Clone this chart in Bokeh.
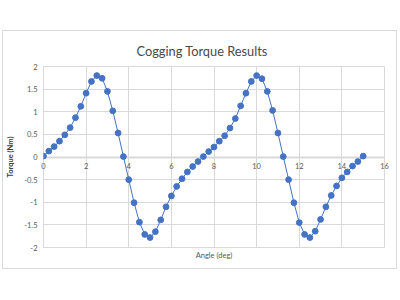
from bokeh.plotting import figure
from bokeh.models import ColumnDataSource, FixedTicker, LinearAxis, Range1d, Title, Grid
from bokeh.embed import file_html
from bokeh.resources import INLINE

angle = [0, 0.25, 0.5, 0.75, 1.0, 1.25, 1.5, 1.75, 2.0, 2.25, 2.5, 2.75, 3.0, 3.25, 3.5, 3.75,
         4.0, 4.25, 4.5, 4.75, 5.0, 5.25, 5.5, 5.75, 6.0, 6.25, 6.5, 6.75, 7.0, 7.25, 7.5, 7.75,
         8.0, 8.25, 8.5, 8.75, 9.0, 9.25, 9.5, 9.75, 10.0, 10.25, 10.5, 10.75, 11.0, 11.25, 11.5, 11.75,
         12.0, 12.25, 12.5, 12.75, 13.0, 13.25, 13.5, 13.75, 14.0, 14.25, 14.5, 14.75, 15.0]
torque = [0.02, 0.13, 0.23, 0.35, 0.49, 0.65, 0.87, 1.12, 1.41, 1.67, 1.80, 1.74, 1.45, 1.02, 0.53, 0.01,
          -0.50, -1.01, -1.44, -1.71, -1.78, -1.65, -1.39, -1.10, -0.86, -0.65, -0.48, -0.33, -0.21, -0.10, 0.01, 0.12,
          0.22, 0.35, 0.47, 0.64, 0.85, 1.13, 1.41, 1.67, 1.80, 1.73, 1.45, 1.03, 0.53, 0.01, -0.50, -1.01,
          -1.45, -1.71, -1.78, -1.64, -1.38, -1.10, -0.85, -0.64, -0.46, -0.33, -0.20, -0.10, 0.02]

x_ticks = [0, 2, 4, 6, 8, 10, 12, 14, 16]
y_ticks = [-2, -1.5, -1, -0.5, 0, 0.5, 1, 1.5, 2]
y_tick_labels = ["-2", "-1.5", "-1", "-0.5", "0", "0.5", "1", "1.5", "2"]
zero_line = [0]

title_text = "Cogging Torque Results"
x_title = "Angle (deg)"
y_title = "Torque (Nm)"

FONT = "Lato"
GREY = "#595959"
GRID = "#d9d9d9"
BLUE = "#4472C4"

p = figure(width=393, height=237, output_backend="svg", toolbar_location=None,
           x_range=Range1d(0, 16), y_range=Range1d(-2, 2),
           min_border_left=40, min_border_right=12, min_border_top=35, min_border_bottom=21,
           x_axis_location=None, y_axis_location=None)
p.margin = (31, 0, 0, 3)
p.styles = {"outline": "1px solid #d9d9d9"}

p.title.text = title_text
p.title.align = "left"
p.title.offset = 93
p.title.standoff = 15
p.title.text_font = FONT
p.title.text_font_size = "12.8px"
p.title.text_font_style = "normal"
p.title.text_color = "#4a4a4a"

p.outline_line_color = GRID
p.background_fill_color = "white"
p.border_fill_color = "white"

p.xgrid.visible = False
p.ygrid.visible = False
p.add_layout(Grid(dimension=0, ticker=FixedTicker(ticks=x_ticks), grid_line_color=GRID))
p.add_layout(Grid(dimension=1, ticker=FixedTicker(ticks=y_ticks), grid_line_color=GRID))
p.add_layout(Grid(dimension=1, ticker=FixedTicker(ticks=zero_line), grid_line_color=GRID, grid_line_width=2))

src = ColumnDataSource(dict(x=angle, y=torque))
p.line("x", "y", source=src, line_color=BLUE, line_width=1)
p.scatter("x", "y", source=src, size=5.8, fill_color=BLUE, line_color=BLUE)

# y axis (left)
yax = LinearAxis(ticker=FixedTicker(ticks=y_ticks))
yax.major_label_overrides = {t: l for t, l in zip(y_ticks, y_tick_labels)}
yax.axis_line_color = None
yax.major_tick_line_color = None
yax.minor_tick_line_color = None
yax.major_tick_out = 0
yax.major_tick_in = 0
yax.major_label_standoff = 6
yax.major_label_text_font = FONT
yax.major_label_text_font_size = "7.5px"
yax.major_label_text_color = GREY
yax.axis_label = y_title
yax.axis_label_text_font = FONT
yax.axis_label_text_font_size = "7.5px"
yax.axis_label_text_font_style = "bold"
yax.axis_label_text_color = "#404040"
yax.axis_label_standoff = 6
p.add_layout(yax, "left")

# x axis, labels lifted up to the zero line
xax = LinearAxis(ticker=FixedTicker(ticks=x_ticks))
xax.axis_line_color = None
xax.major_tick_line_color = None
xax.minor_tick_line_color = None
xax.major_tick_out = 0
xax.major_tick_in = 0
xax.major_label_text_font = FONT
xax.major_label_text_font_size = "7.5px"
xax.major_label_text_color = GREY
xax.major_label_standoff = -85
p.add_layout(xax, "below")

p.add_layout(Title(text=x_title, align="center", text_font=FONT, text_font_size="7.5px",
                   text_font_style="normal", text_color=GREY, standoff=3), "below")

open("out.html", "w").write(file_html(p, INLINE))
